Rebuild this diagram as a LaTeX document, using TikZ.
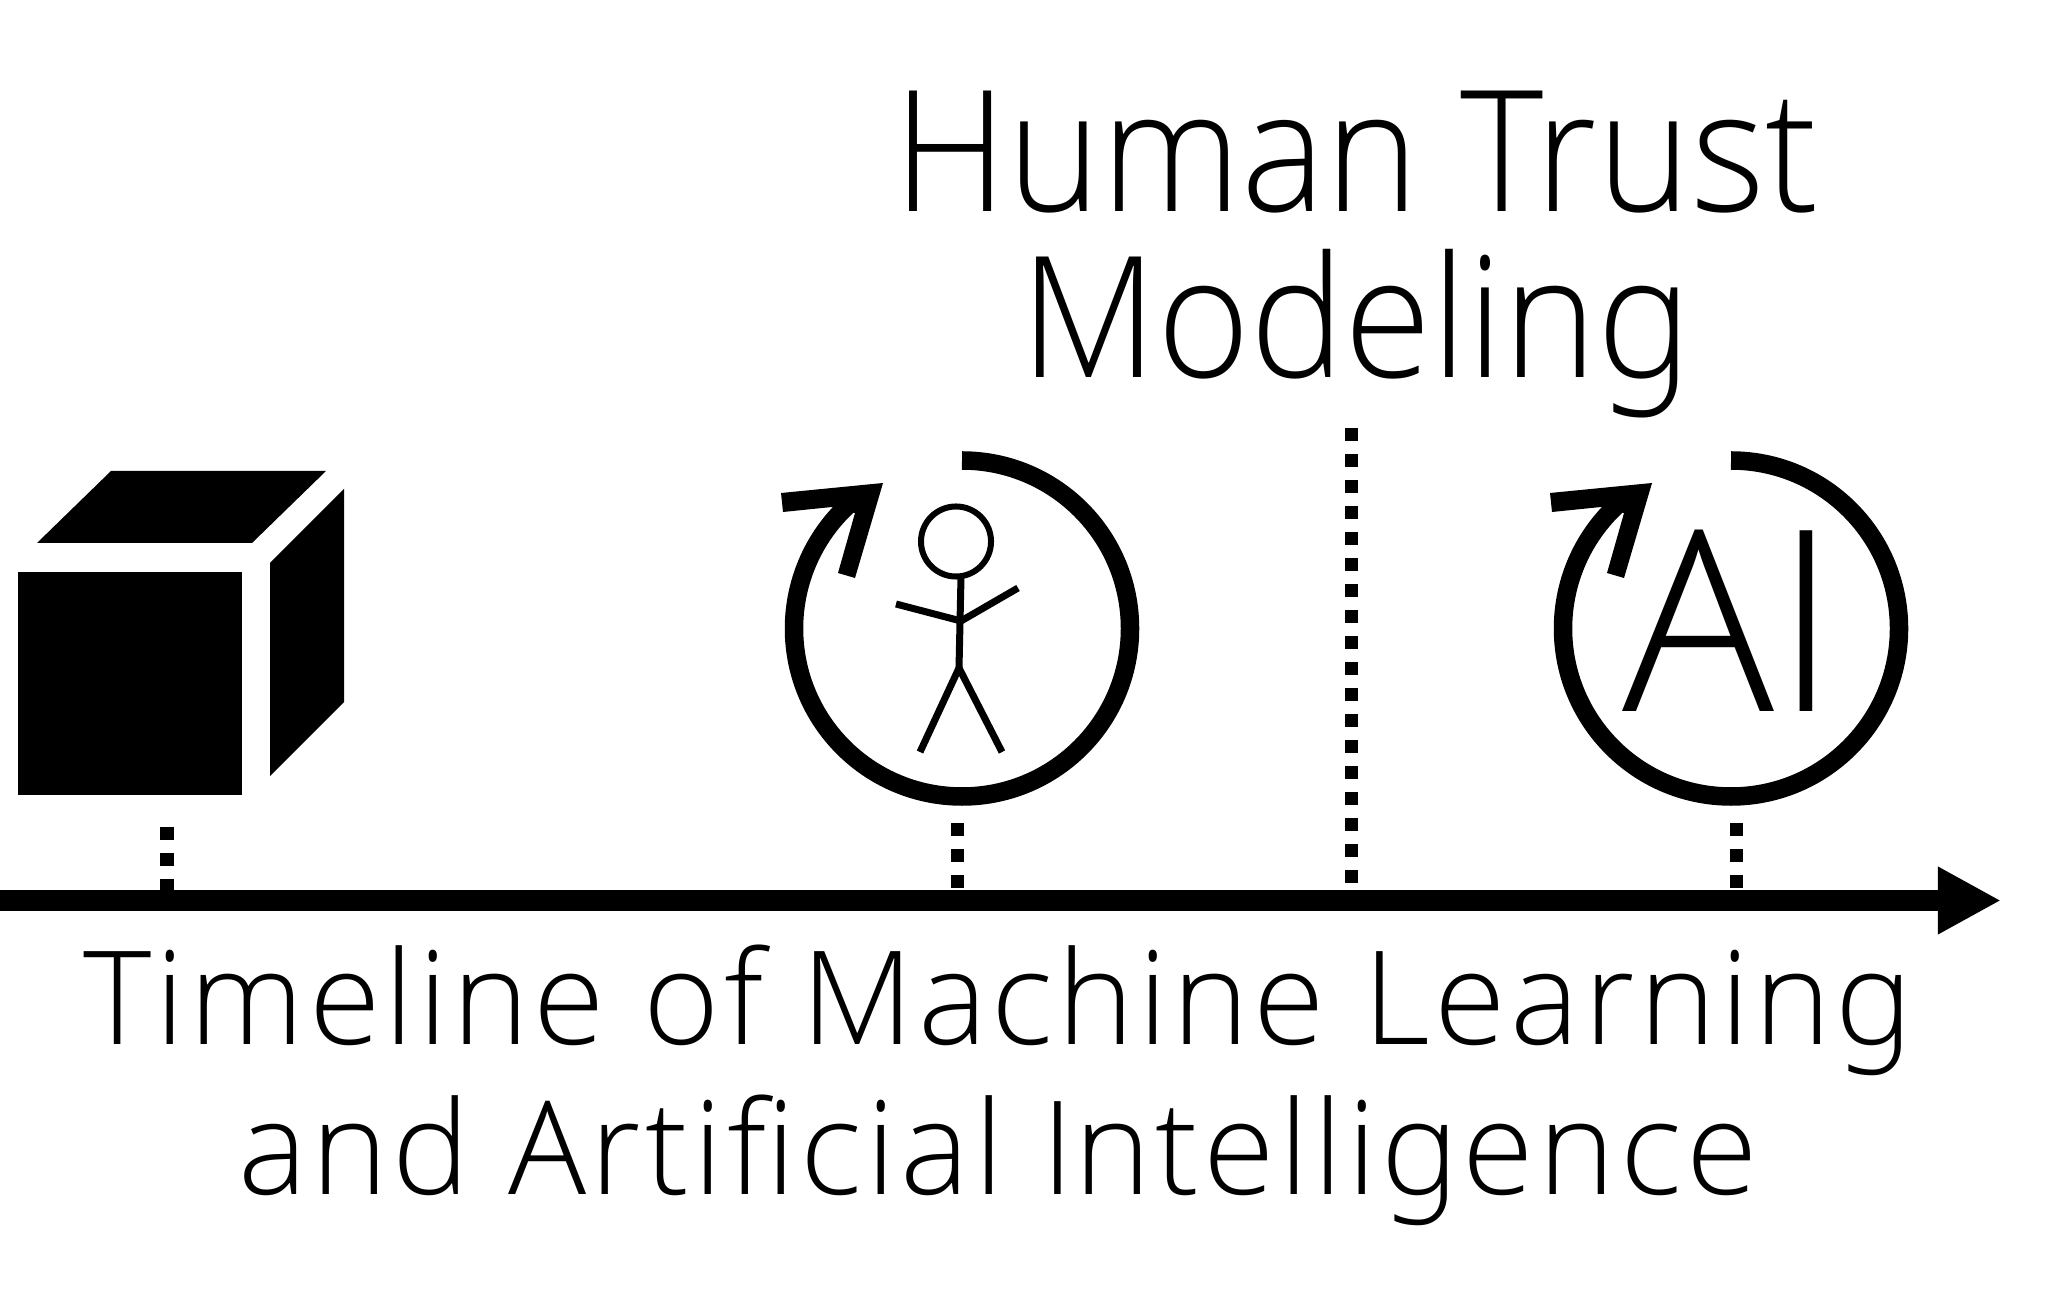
\documentclass[tikz,border=0pt]{standalone}
\usepackage{fontspec}
\usepackage{tikz}
\usetikzlibrary{arrows.meta}
\setmainfont{Open Sans Light}
\newfontfamily\titlefont[FakeStretch=0.94,RawFeature=+salt]{Open Sans Light}
\newfontfamily\spacedfont[LetterSpace=3.4,RawFeature=+salt]{Open Sans Light}

\begin{document}
\begin{tikzpicture}[
			x=0.01cm,
			y=-0.01cm,
			every node/.style={inner sep=0pt, outer sep=0pt},
			titletext/.style={align=center, font=\titlefont\fontsize{48}{47.2}\selectfont},
			axistext/.style={align=center, font=\spacedfont\fontsize{37}{42.7}\selectfont},
			blackface/.style={fill=black, draw=none},
			dotline/.style={line width=0.13cm, dash pattern=on 0.13cm off 0.13cm},
			axisline/.style={line width=0.21cm, -{Triangle[width=0.63cm, length=0.63cm]}},
			ringline/.style={line width=0.185cm},
			figureline/.style={line width=0.07cm}
			]
			\useasboundingbox (0,0) rectangle (2064,1298);
			
			\node[titletext] (title) at (1356,254.5) {Human Trust\\Modeling};
			\node[axistext] (caption) at (998,1085) {Timeline of Machine Learning\\and Artificial {\rmfamily I}ntelligence};
			
			\fill[blackface] (18,572) rectangle (242,795);
			\fill[blackface] (37,543) -- (111,471) -- (326,471) -- (252,543) -- cycle;
			\fill[blackface] (270,563) -- (344,489) -- (344,702) -- (270,776) -- cycle;
			
			\foreach \cx in {962,1731} {
				\begin{scope}[shift={(\cx,628.5)}]
					\draw[ringline] (0,-168) arc[start angle=-90, end angle=229, radius=168];
					\fill[blackface] (-181,-135.5) -- (-79,-145.5) -- (-107,-50.5) -- (-124,-55.5) -- (-107,-115.5) -- (-130,-121.5) -- (-179,-116.5) -- cycle;
				\end{scope}
			}
			
			\node[circle, draw, line width=0.06cm, minimum size=0.70cm] (head) at (956,541.5) {};
			\coordinate (hip) at (959,668);
			\coordinate (chest) at (961,621);
			\draw[figureline] (head.south) ++(5,0) -- (hip);
			\draw[figureline] (896,604) -- (chest) -- (1018,588);
			\draw[figureline] (920,752) -- (hip) -- (1002,752);
			
			\node[font=\fontsize{72}{72}\selectfont, anchor=base] (ai) at (1730,712) {AI};
			
			\coordinate (axisstart) at (0,900.5);
			\coordinate (axisend) at (2001,900.5);
			\coordinate (ticktopa) at (167,827);
			\coordinate (tickbota) at (167,890);
			\coordinate (ticktopb) at (957,823);
			\coordinate (tickbotb) at (957,890);
			\coordinate (ticktopc) at (1351,428);
			\coordinate (tickbotc) at (1351,884);
			\coordinate (ticktopd) at (1736,823);
			\coordinate (tickbotd) at (1736,890);
			
			\draw[dotline] (ticktopa) -- (tickbota);
			\draw[dotline] (ticktopb) -- (tickbotb);
			\draw[dotline] (ticktopc) -- (tickbotc);
			\draw[dotline] (ticktopd) -- (tickbotd);
			\draw[axisline] (axisstart) -- (axisend);
		\end{tikzpicture}
\end{document}
